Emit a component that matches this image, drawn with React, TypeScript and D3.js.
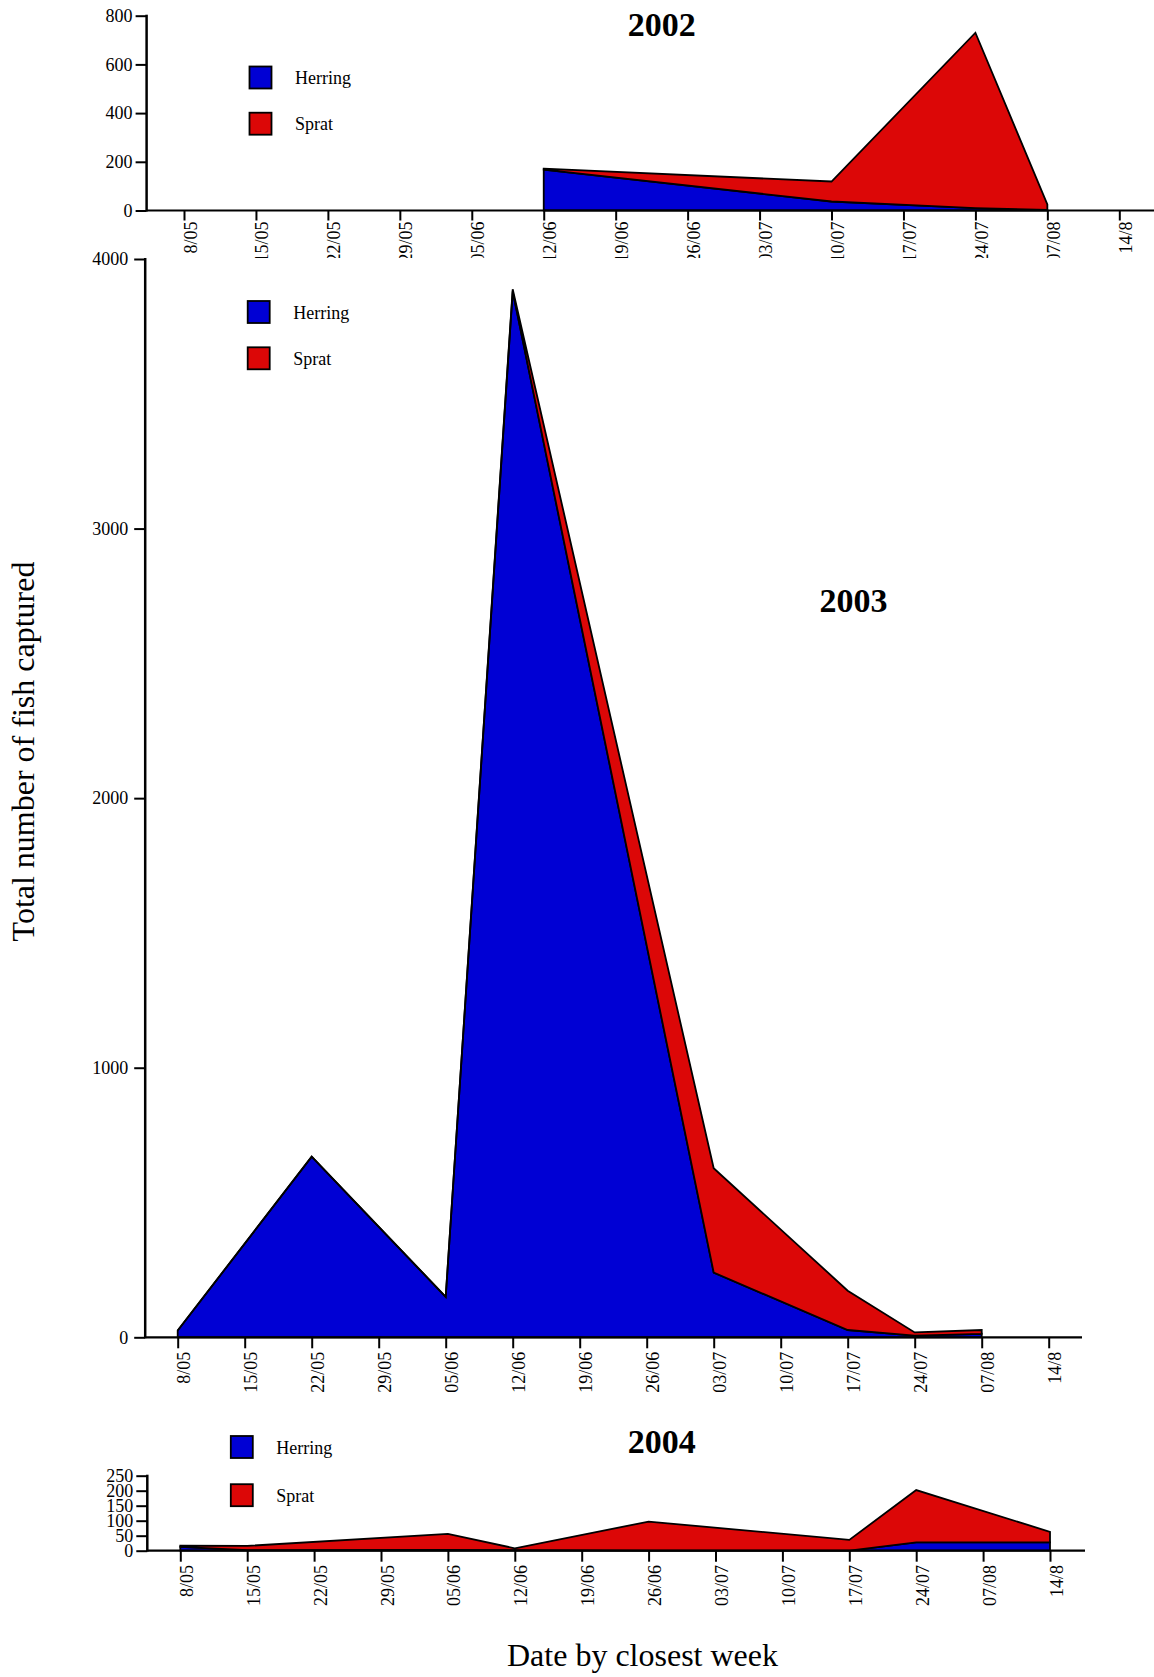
import React, { useEffect, useRef } from 'react';
import * as d3 from 'd3';

const WIDTH = 1154;
const HEIGHT = 1677;
const FONT = "'Liberation Serif', 'Times New Roman', serif";

// week labels on every x axis
const WEEKS = ['8/05', '15/05', '22/05', '29/05', '05/06', '12/06', '19/06', '26/06', '03/07', '10/07', '17/07', '24/07', '07/08', '14/8'];

const SERIES = ['Herring', 'Sprat'];
const COLORS = ['#0000d4', '#dc0707'];

// 2002 - only the sampled weeks
const SAMPLED_2002 = ['12/06', '10/07', '24/07', '07/08'];
const HERRING_2002 = [168, 37, 10, 2];
const SPRAT_2002 = [4, 82, 720, 23];
const Y_TICKS_2002 = [0, 200, 400, 600, 800];

// 2003
const SAMPLED_2003 = ['8/05', '22/05', '05/06', '12/06', '03/07', '17/07', '24/07', '07/08'];
const HERRING_2003 = [25, 670, 150, 3880, 240, 27, 6, 13];
const SPRAT_2003 = [0, 0, 0, 8, 387, 146, 12, 14];
const Y_TICKS_2003 = [0, 1000, 2000, 3000, 4000];

// 2004
const SAMPLED_2004 = ['8/05', '15/05', '05/06', '12/06', '26/06', '17/07', '24/07', '14/8'];
const HERRING_2004 = [13, 2, 3, 2, 0, 0, 28, 28];
const SPRAT_2004 = [4, 14, 53, 6, 97, 36, 174, 35];
const Y_TICKS_2004 = [0, 50, 100, 150, 200, 250];

interface Panel {
  year: string;
  sampled: string[];
  herring: number[];
  sprat: number[];
  yTicks: number[];
  xRange: [number, number];
  yRange: [number, number];
  axisX: number;
  baseEnd: number;
  tickLen: number;
  labelOffset: number;
  yGap: number;
  legend: { x: number; y: number; step: number };
  title: { x: number; y: number };
  clip?: number;
}

const PANELS: Panel[] = [
  {
    year: '2002', sampled: SAMPLED_2002, herring: HERRING_2002, sprat: SPRAT_2002, yTicks: Y_TICKS_2002,
    xRange: [184, 1119.3], yRange: [210.5, 15.7], axisX: 146.6, baseEnd: 1160,
    tickLen: 10, labelOffset: 11, yGap: 3,
    legend: { x: 249.5, y: 66.5, step: 46.2 }, title: { x: 661.7, y: 36 }, clip: 258,
  },
  {
    year: '2003', sampled: SAMPLED_2003, herring: HERRING_2003, sprat: SPRAT_2003, yTicks: Y_TICKS_2003,
    xRange: [177.7, 1048.7], yRange: [1337.3, 259], axisX: 145.2, baseEnd: 1082,
    tickLen: 11, labelOffset: 14.4, yGap: 6,
    legend: { x: 247.7, y: 301, step: 46.3 }, title: { x: 853.5, y: 611.7 },
  },
  {
    year: '2004', sampled: SAMPLED_2004, herring: HERRING_2004, sprat: SPRAT_2004, yTicks: Y_TICKS_2004,
    xRange: [180.3, 1050], yRange: [1550.7, 1475.7], axisX: 147.3, baseEnd: 1085,
    tickLen: 11, labelOffset: 14.3, yGap: 3,
    legend: { x: 230.8, y: 1436, step: 48.2 }, title: { x: 661.7, y: 1452.7 },
  },
];

const App: React.FC = () => {
  const svgRef = useRef<SVGSVGElement>(null);

  useEffect(() => {
    const svg = d3.select(svgRef.current);
    svg.selectAll('*').remove();

    const defs = svg.append('defs');

    PANELS.forEach(p => {
      const g = svg.append('g');
      if (p.clip) {
        defs.append('clipPath').attr('id', `clip${p.year}`)
          .append('rect').attr('x', 0).attr('y', 0).attr('width', WIDTH).attr('height', p.clip);
        g.attr('clip-path', `url(#clip${p.year})`);
      }

      const x = d3.scalePoint<string>().domain(WEEKS).range(p.xRange);
      const y = d3.scaleLinear().domain([0, p.yTicks[p.yTicks.length - 1]]).range(p.yRange);

      const rows = p.sampled.map((w, i) => ({ week: w, Herring: p.herring[i], Sprat: p.sprat[i] }));
      const stacked = d3.stack<any>().keys(SERIES)(rows);

      const area = d3.area<any>()
        .x(d => x(d.data.week) as number)
        .y0(d => y(d[0]))
        .y1(d => y(d[1]));

      g.selectAll('path.layer')
        .data(stacked)
        .join('path')
        .attr('class', 'layer')
        .attr('d', area)
        .attr('fill', (_d, i) => COLORS[i])
        .attr('stroke', '#000')
        .attr('stroke-width', 1.8)
        .attr('stroke-linejoin', 'miter');

      // x axis
      const xAxis = g.append('g')
        .attr('transform', `translate(0,${p.yRange[0]})`)
        .call(d3.axisBottom(x).tickSize(p.tickLen));
      xAxis.select('.domain').remove();
      xAxis.selectAll('line').attr('stroke', '#000').attr('stroke-width', 2);
      xAxis.selectAll('text')
        .attr('transform', 'rotate(-90)')
        .attr('x', -p.labelOffset)
        .attr('y', 12)
        .attr('dy', 0)
        .attr('text-anchor', 'end')
        .attr('fill', '#000')
        .style('font-family', FONT)
        .style('font-size', '18px');
      g.append('line')
        .attr('x1', p.axisX).attr('x2', p.baseEnd)
        .attr('y1', p.yRange[0]).attr('y2', p.yRange[0])
        .attr('stroke', '#000').attr('stroke-width', 2.2);

      // y axis
      const yAxis = g.append('g')
        .attr('transform', `translate(${p.axisX},0)`)
        .call(d3.axisLeft(y).tickValues(p.yTicks).tickSize(11).tickPadding(p.yGap).tickFormat(d3.format('d')));
      yAxis.select('.domain').remove();
      yAxis.selectAll('line').attr('stroke', '#000').attr('stroke-width', 2);
      yAxis.selectAll('text')
        .attr('fill', '#000')
        .style('font-family', FONT)
        .style('font-size', '18px');
      g.append('line')
        .attr('x1', p.axisX).attr('x2', p.axisX)
        .attr('y1', p.yRange[0] + 1).attr('y2', p.yRange[1] - 1)
        .attr('stroke', '#000').attr('stroke-width', 2.5);

      // title
      g.append('text')
        .attr('x', p.title.x).attr('y', p.title.y)
        .attr('text-anchor', 'middle')
        .style('font-family', FONT)
        .style('font-size', '34px')
        .style('font-weight', 'bold')
        .text(p.year);

      // legend
      const leg = g.append('g').attr('transform', `translate(${p.legend.x},${p.legend.y})`);
      SERIES.forEach((s, i) => {
        leg.append('rect')
          .attr('x', 0).attr('y', i * p.legend.step)
          .attr('width', 22).attr('height', 22)
          .attr('fill', COLORS[i]).attr('stroke', '#000').attr('stroke-width', 1.8);
        leg.append('text')
          .attr('x', 45.5).attr('y', i * p.legend.step + 17.5)
          .style('font-family', FONT)
          .style('font-size', '18px')
          .text(s);
      });
    });

    // axis titles
    svg.append('text')
      .attr('transform', 'translate(33.5,751.5) rotate(-90)')
      .attr('text-anchor', 'middle')
      .style('font-family', FONT)
      .style('font-size', '32px')
      .text('Total number of fish captured');

    svg.append('text')
      .attr('x', 642.5).attr('y', 1666)
      .attr('text-anchor', 'middle')
      .style('font-family', FONT)
      .style('font-size', '32px')
      .text('Date by closest week');
  }, []);

  return (
    <svg
      ref={svgRef}
      width={WIDTH}
      height={HEIGHT}
      style={{ position: 'absolute', left: 0, top: 0, background: '#fff' }}
    />
  );
};

export default App;
